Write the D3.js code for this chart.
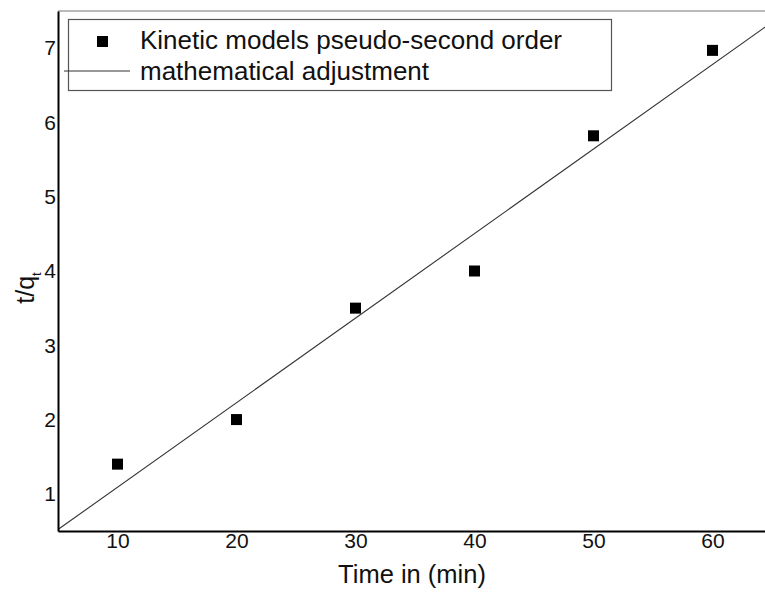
<!DOCTYPE html>
<html>
<head>
<meta charset="utf-8">
<script src="https://cdn.jsdelivr.net/npm/d3@7"></script>
<style>
  body { margin: 0; background: #fff; }
  svg { display: block; font-family: "Liberation Sans", Arial, sans-serif; }
</style>
</head>
<body>
<svg id="chart" width="765" height="592"></svg>
<script>
// data
const times = [10, 20, 30, 40, 50, 60];
const tq = [1.4, 2.0, 3.5, 4.0, 5.82, 6.97];
const fitX = [5, 65];
const fitY = [0.52, 7.35];
const xTicks = [10, 20, 30, 40, 50, 60];
const yTicks = [1, 2, 3, 4, 5, 6, 7];

const svg = d3.select('#chart');
const margin = { top: 11, left: 58 };
const plotH = 520;
const font = '"Liberation Sans", Arial, sans-serif';

const x = d3.scaleLinear().domain([5, 65]).range([margin.left, margin.left + 714]);
const y = d3.scaleLinear().domain([0.5, 7.5]).range([margin.top + plotH, margin.top]);

// clip so the fit line stays inside the plot frame
svg.append('clipPath').attr('id', 'clip')
  .append('rect')
  .attr('x', x(5)).attr('y', y(7.5))
  .attr('width', x(65) - x(5)).attr('height', y(0.5) - y(7.5));

// top frame line
svg.append('line')
  .attr('x1', x(5)).attr('x2', x(65))
  .attr('y1', y(7.5)).attr('y2', y(7.5))
  .style('stroke', '#777').style('stroke-width', 1.2);

// fit line
svg.append('line')
  .attr('clip-path', 'url(#clip)')
  .attr('x1', x(fitX[0])).attr('y1', y(fitY[0]))
  .attr('x2', x(fitX[1])).attr('y2', y(fitY[1]))
  .style('stroke', '#333').style('stroke-width', 1.1);

// markers
const sq = 11;
svg.selectAll('.pt')
  .data(times)
  .enter()
  .append('rect')
  .attr('class', 'pt')
  .attr('x', (d) => x(d) - sq / 2)
  .attr('y', (d, i) => y(tq[i]) - sq / 2)
  .attr('width', sq).attr('height', sq)
  .style('fill', '#000');

// axes
const xAxis = d3.axisBottom(x).tickValues(xTicks).tickSize(0).tickPadding(2)
  .tickFormat(d3.format('d'));
const gx = svg.append('g')
  .attr('transform', `translate(0,${y(0.5)})`)
  .call(xAxis);
gx.select('.domain').style('stroke', '#000').style('stroke-width', 2);
gx.selectAll('text').style('font-size', '21px').style('fill', '#111')
  .attr('font-family', font);

const yAxis = d3.axisLeft(y).tickValues(yTicks).tickSize(0).tickPadding(2)
  .tickFormat(d3.format('d'));
const gy = svg.append('g')
  .attr('transform', `translate(${x(5)},0)`)
  .call(yAxis);
gy.select('.domain').style('stroke', '#000').style('stroke-width', 2);
gy.selectAll('text').style('font-size', '21px').style('fill', '#111')
  .attr('dy', '0.32em')
  .attr('font-family', font);

// axis titles
svg.append('text')
  .attr('x', 412).attr('y', 583)
  .attr('text-anchor', 'middle')
  .style('font-size', '25.5px').style('fill', '#111')
  .text('Time in (min)');

const yl = svg.append('text')
  .attr('transform', 'translate(34,288) rotate(-90)')
  .attr('text-anchor', 'middle')
  .style('font-size', '25px').style('fill', '#111');
yl.append('tspan').text('t/q');
yl.append('tspan').attr('dy', 7).style('font-size', '13px').text('t');

// legend
const lg = svg.append('g');
lg.append('rect')
  .attr('x', 68.5).attr('y', 19.5)
  .attr('width', 543).attr('height', 71)
  .style('fill', '#fff').style('stroke', '#555').style('stroke-width', 1.2);
lg.append('rect')
  .attr('x', 97).attr('y', 36).attr('width', 11).attr('height', 11)
  .style('fill', '#000');
lg.append('line')
  .attr('x1', 64).attr('x2', 130).attr('y1', 71).attr('y2', 71)
  .style('stroke', '#333').style('stroke-width', 1.1);
lg.append('text')
  .attr('x', 140).attr('y', 49)
  .style('font-size', '26px').style('fill', '#111')
  .text('Kinetic models pseudo-second order');
lg.append('text')
  .attr('x', 140).attr('y', 80)
  .style('font-size', '26px').style('fill', '#111')
  .text('mathematical adjustment');
</script>
</body>
</html>
